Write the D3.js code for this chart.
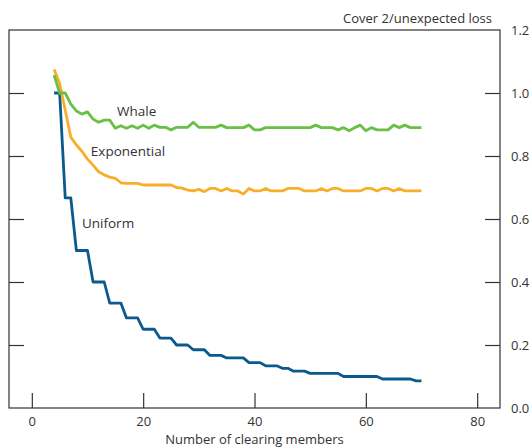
<!doctype html>
<html>
<head>
<meta charset="utf-8">
<script src="https://cdn.jsdelivr.net/npm/d3@7"></script>
<style>
  body { margin: 0; background: #fff; }
  text { font-family: "Open Sans", "Noto Sans", sans-serif; fill: #333; }
</style>
</head>
<body>
<svg id="chart"></svg>
<script>
// number of clearing members, 4..70
var members = d3.range(4, 71);

var uniform = [
  1.0, 1.0, 0.667, 0.667, 0.5, 0.5, 0.5, 0.4, 0.4, 0.4,
  0.333, 0.333, 0.333, 0.286, 0.286, 0.286, 0.25, 0.25, 0.25, 0.222,
  0.222, 0.222, 0.2, 0.2, 0.2, 0.185, 0.185, 0.185, 0.167, 0.167,
  0.167, 0.159, 0.159, 0.159, 0.159, 0.144, 0.144, 0.144, 0.134, 0.134,
  0.134, 0.126, 0.126, 0.117, 0.117, 0.117, 0.110, 0.110, 0.110, 0.110,
  0.110, 0.110, 0.100, 0.100, 0.100, 0.100, 0.100, 0.100, 0.100, 0.092,
  0.092, 0.092, 0.092, 0.092, 0.092, 0.086, 0.086
];

var exponential = [
  1.075, 1.03, 0.945, 0.86, 0.835, 0.815, 0.79, 0.771, 0.75, 0.74,
  0.733, 0.729, 0.715, 0.713, 0.713, 0.713, 0.708, 0.708, 0.708, 0.708,
  0.708, 0.708, 0.70, 0.698, 0.692, 0.689, 0.694, 0.687, 0.697, 0.697,
  0.689, 0.697, 0.689, 0.689, 0.679, 0.697, 0.689, 0.689, 0.697, 0.689,
  0.689, 0.689, 0.697, 0.697, 0.697, 0.689, 0.689, 0.689, 0.697, 0.689,
  0.697, 0.697, 0.689, 0.689, 0.689, 0.689, 0.697, 0.697, 0.689, 0.697,
  0.697, 0.689, 0.697, 0.689, 0.689, 0.689, 0.689
];

var whale = [
  1.057, 1.0, 1.0, 0.965, 0.943, 0.933, 0.94, 0.917, 0.907, 0.914,
  0.914, 0.888, 0.896, 0.888, 0.896, 0.888, 0.898, 0.888, 0.898, 0.891,
  0.891, 0.883, 0.891, 0.891, 0.891, 0.907, 0.891, 0.891, 0.891, 0.891,
  0.898, 0.89, 0.89, 0.89, 0.89, 0.898, 0.883, 0.883, 0.89, 0.89,
  0.89, 0.89, 0.89, 0.89, 0.89, 0.89, 0.89, 0.898, 0.89, 0.89,
  0.89, 0.883, 0.89, 0.880, 0.89, 0.898, 0.880, 0.89, 0.883, 0.883,
  0.883, 0.898, 0.89, 0.898, 0.89, 0.89, 0.89
];

var xTicks = [0, 20, 40, 60, 80];
var yTicks = [0, 0.2, 0.4, 0.6, 0.8, 1.0, 1.2];

var series = [
  { name: "Uniform", values: uniform, color: "#0b5a8e", lx: 9, ly: 0.57 },
  { name: "Exponential", values: exponential, color: "#f9ae2a", lx: 10.6, ly: 0.80 },
  { name: "Whale", values: whale, color: "#6abf45", lx: 15.3, ly: 0.926 }
];

var width = 531, height = 447;
var plotLeft = 9, plotRight = 500, plotTop = 30, plotBottom = 408;

var svg = d3.select("#chart").attr("width", width).attr("height", height);

var x = d3.scaleLinear().domain([-4.1, 84.1]).range([plotLeft, plotRight]);
var y = d3.scaleLinear().domain([0, 1.2]).range([plotBottom, plotTop]);

// frame
svg.append("rect")
  .attr("x", plotLeft).attr("y", plotTop)
  .attr("width", plotRight - plotLeft).attr("height", plotBottom - plotTop)
  .attr("fill", "none").attr("stroke", "#333").attr("stroke-width", 1.2);

// bottom axis, ticks pointing up into the plot
var gx = svg.append("g")
  .attr("transform", "translate(0," + plotBottom + ")")
  .call(d3.axisBottom(x).tickValues(xTicks).tickSize(-15).tickPadding(9));

// right axis with labels, ticks pointing in
var gy = svg.append("g")
  .attr("transform", "translate(" + plotRight + ",0)")
  .call(d3.axisRight(y).tickValues(yTicks).tickSize(-15).tickPadding(11)
    .tickFormat(d3.format(".1f")));

// left axis, ticks only
var gl = svg.append("g")
  .attr("transform", "translate(" + plotLeft + ",0)")
  .call(d3.axisLeft(y).tickValues(yTicks.slice(1, -1)).tickSize(-15).tickFormat(""));

[gx, gy, gl].forEach(function(g) {
  g.select(".domain").remove();
  g.selectAll(".tick line").attr("stroke", "#333").attr("stroke-width", 1.2);
  g.selectAll(".tick text").attr("font-size", 13).attr("font-family", null).style("fill", "#333");
});
gy.selectAll(".tick").filter(function(d) { return d === 0 || d === 1.2; })
  .select("line").remove();

var line = d3.line()
  .x(function(d, i) { return x(members[i]); })
  .y(function(d) { return y(d); });

series.forEach(function(s) {
  svg.append("path")
    .datum(s.values)
    .attr("d", line)
    .attr("fill", "none")
    .attr("stroke", s.color)
    .attr("stroke-width", 2.8)
    .attr("stroke-linejoin", "round");
});

series.forEach(function(s) {
  svg.append("text")
    .attr("x", x(s.lx))
    .attr("y", y(s.ly))
    .attr("font-size", 13.5)
    .text(s.name);
});

svg.append("text")
  .attr("x", 492).attr("y", 23)
  .attr("text-anchor", "end")
  .attr("font-size", 13)
  .text("Cover 2/unexpected loss");

svg.append("text")
  .attr("x", (plotLeft + plotRight) / 2).attr("y", 444)
  .attr("text-anchor", "middle")
  .attr("font-size", 13)
  .text("Number of clearing members");
</script>
</body>
</html>
